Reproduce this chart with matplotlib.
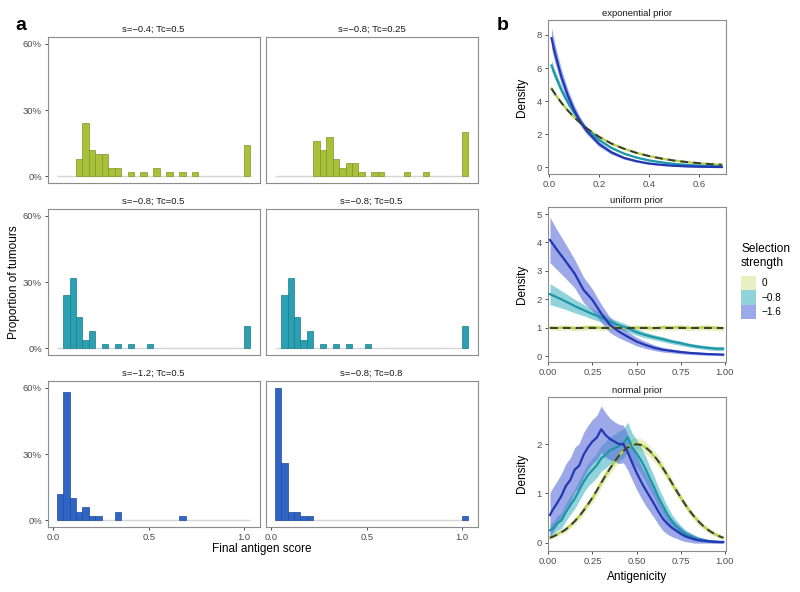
import numpy as np
import matplotlib
matplotlib.use("Agg")
import matplotlib.pyplot as plt
from matplotlib.patches import Patch

plt.rcParams['font.family'] = ['Liberation Sans', 'DejaVu Sans']

# ---------------- panel a data (percent of tumours per bin, 30 bins) ----------------
hist_titles = ["s=\u22120.4; Tc=0.5", "s=\u22120.8; Tc=0.25",
               "s=\u22120.8; Tc=0.5", "s=\u22120.8; Tc=0.5",
               "s=\u22121.2; Tc=0.5", "s=\u22120.8; Tc=0.8"]
pct_tl = [0, 0, 0, 8, 24, 12, 10, 10, 4, 4, 0, 2, 0, 2, 0, 4, 0, 2, 0, 2, 0, 2, 0, 0, 0, 0, 0, 0, 0, 14]
pct_tr = [0, 0, 0, 0, 0, 0, 16, 12, 18, 8, 4, 6, 6, 2, 0, 2, 2, 0, 0, 0, 2, 0, 0, 2, 0, 0, 0, 0, 0, 20]
pct_ml = [0, 24, 32, 14, 4, 8, 0, 2, 0, 2, 0, 2, 0, 0, 2, 0, 0, 0, 0, 0, 0, 0, 0, 0, 0, 0, 0, 0, 0, 10]
pct_mr = [0, 24, 32, 14, 4, 8, 0, 2, 0, 2, 0, 2, 0, 0, 2, 0, 0, 0, 0, 0, 0, 0, 0, 0, 0, 0, 0, 0, 0, 10]
pct_bl = [12, 58, 10, 4, 6, 2, 2, 0, 0, 4, 0, 0, 0, 0, 0, 0, 0, 0, 0, 2, 0, 0, 0, 0, 0, 0, 0, 0, 0, 0]
pct_br = [60, 26, 4, 4, 2, 2, 0, 0, 0, 0, 0, 0, 0, 0, 0, 0, 0, 0, 0, 0, 0, 0, 0, 0, 0, 0, 0, 0, 0, 2]
bin_range = (0.018, 1.030)
hist_ticks = [0.0, 0.5, 1.0]
hist_tick_labels = ["0.0", "0.5", "1.0"]
pct_ticks = [0, 30, 60]
pct_tick_labels = ["0%", "30%", "60%"]

# ---------------- panel b data ----------------
strength_labels = ["0", "\u22120.8", "\u22121.6"]

x_exp = [0.01, 0.025, 0.05, 0.075, 0.10, 0.125, 0.15, 0.20, 0.25, 0.30, 0.35, 0.40, 0.45, 0.50, 0.55, 0.60, 0.65, 0.69]
exp_s0 = [4.76, 4.41, 3.89, 3.44, 3.03, 2.68, 2.36, 1.84, 1.43, 1.12, 0.87, 0.68, 0.53, 0.41, 0.32, 0.25, 0.19, 0.16]
exp_s08 = [6.15, 5.55, 4.66, 3.93, 3.31, 2.78, 2.34, 1.66, 1.17, 0.83, 0.59, 0.42, 0.30, 0.21, 0.15, 0.105, 0.075, 0.057]
exp_s16 = [7.80, 6.81, 5.44, 4.35, 3.47, 2.77, 2.21, 1.41, 0.90, 0.57, 0.37, 0.23, 0.15, 0.095, 0.06, 0.04, 0.025, 0.018]
exp_prior = [4.76, 4.41, 3.89, 3.44, 3.03, 2.68, 2.36, 1.84, 1.43, 1.12, 0.87, 0.68, 0.53, 0.41, 0.32, 0.25, 0.19, 0.16]
exp_b0 = [0.08, 0.08, 0.07, 0.07, 0.06, 0.06, 0.06, 0.05, 0.05, 0.04, 0.04, 0.04, 0.04, 0.03, 0.03, 0.03, 0.03, 0.03]
exp_b08 = [0.32, 0.28, 0.24, 0.20, 0.17, 0.14, 0.12, 0.09, 0.07, 0.05, 0.04, 0.04, 0.03, 0.03, 0.03, 0.02, 0.02, 0.02]
exp_b16 = [0.62, 0.55, 0.45, 0.37, 0.30, 0.25, 0.20, 0.15, 0.11, 0.08, 0.06, 0.05, 0.04, 0.03, 0.03, 0.03, 0.02, 0.02]

x_uni = [0.01, 0.05, 0.10, 0.15, 0.20, 0.25, 0.30, 0.35, 0.40, 0.45, 0.50, 0.55, 0.60, 0.65, 0.70, 0.75, 0.80, 0.85, 0.90, 0.95, 0.99]
uni_s0 = [1.0, 0.99, 1.01, 0.98, 1.0, 1.02, 0.99, 1.0, 1.01, 0.99, 1.0, 1.0, 0.98, 1.01, 1.0, 1.02, 0.99, 1.0, 1.01, 0.99, 0.98]
uni_s08 = [2.18, 2.07, 1.92, 1.76, 1.62, 1.48, 1.36, 1.21, 1.09, 0.98, 0.84, 0.74, 0.66, 0.59, 0.51, 0.45, 0.38, 0.33, 0.29, 0.26, 0.26]
uni_s16 = [4.09, 3.74, 3.33, 2.90, 2.33, 1.98, 1.50, 1.09, 0.86, 0.68, 0.51, 0.39, 0.29, 0.22, 0.18, 0.14, 0.11, 0.09, 0.07, 0.06, 0.05]
uni_prior = [1.0, 1.0, 1.0, 1.0, 1.0, 1.0, 1.0, 1.0, 1.0, 1.0, 1.0, 1.0, 1.0, 1.0, 1.0, 1.0, 1.0, 1.0, 1.0, 1.0, 1.0]
uni_b0 = [0.09, 0.09, 0.09, 0.09, 0.09, 0.09, 0.09, 0.09, 0.09, 0.09, 0.09, 0.09, 0.09, 0.09, 0.09, 0.09, 0.09, 0.09, 0.09, 0.09, 0.09]
uni_b08 = [0.37, 0.33, 0.28, 0.24, 0.20, 0.18, 0.16, 0.14, 0.13, 0.12, 0.11, 0.10, 0.09, 0.09, 0.08, 0.08, 0.07, 0.07, 0.07, 0.07, 0.07]
uni_b16 = [0.80, 0.70, 0.60, 0.50, 0.45, 0.38, 0.32, 0.27, 0.22, 0.18, 0.15, 0.12, 0.10, 0.08, 0.07, 0.06, 0.05, 0.05, 0.04, 0.04, 0.04]

x_norm = [0.01, 0.025, 0.05, 0.075, 0.10, 0.125, 0.15, 0.175, 0.20, 0.225, 0.25, 0.275, 0.30, 0.325,
          0.35, 0.375, 0.40, 0.425, 0.45, 0.475, 0.50, 0.525, 0.55, 0.575, 0.60, 0.625, 0.65, 0.675,
          0.70, 0.725, 0.75, 0.775, 0.80, 0.825, 0.85, 0.875, 0.90, 0.925, 0.95, 0.975, 0.99]
norm_s0 = [0.10, 0.12, 0.17, 0.22, 0.27, 0.35, 0.44, 0.53, 0.66, 0.78, 0.90, 1.05, 1.22, 1.37, 1.50, 1.63,
           1.76, 1.87, 1.95, 1.99, 2.01, 1.99, 1.93, 1.85, 1.75, 1.64, 1.50, 1.36, 1.20, 1.05, 0.91, 0.77,
           0.64, 0.53, 0.43, 0.34, 0.27, 0.21, 0.16, 0.12, 0.10]
norm_s08 = [0.25, 0.28, 0.39, 0.45, 0.62, 0.76, 0.89, 1.06, 1.23, 1.37, 1.47, 1.57, 1.71, 1.78, 1.88, 1.91,
            1.96, 2.01, 2.14, 1.93, 1.81, 1.67, 1.50, 1.30, 1.12, 0.91, 0.74, 0.57, 0.43, 0.33, 0.25, 0.18,
            0.14, 0.10, 0.07, 0.05, 0.035, 0.025, 0.02, 0.015, 0.015]
norm_s16 = [0.56, 0.66, 0.80, 0.95, 1.15, 1.27, 1.48, 1.56, 1.78, 1.93, 2.05, 2.13, 2.30, 2.18, 2.10, 2.05,
            2.00, 2.00, 1.83, 1.62, 1.42, 1.24, 1.08, 0.93, 0.78, 0.62, 0.48, 0.38, 0.30, 0.24, 0.18, 0.13,
            0.10, 0.07, 0.05, 0.04, 0.03, 0.02, 0.015, 0.01, 0.01]
norm_prior = [0.099, 0.119, 0.159, 0.209, 0.270, 0.344, 0.432, 0.533, 0.648, 0.775, 0.913, 1.059, 1.210, 1.360,
              1.506, 1.641, 1.761, 1.860, 1.934, 1.980, 1.995, 1.980, 1.934, 1.860, 1.761, 1.641, 1.506, 1.360,
              1.210, 1.059, 0.913, 0.775, 0.648, 0.533, 0.432, 0.344, 0.270, 0.209, 0.159, 0.119, 0.099]
norm_b0 = [0.04, 0.04, 0.05, 0.05, 0.06, 0.06, 0.07, 0.07, 0.08, 0.08, 0.09, 0.09, 0.10, 0.10, 0.10, 0.11,
           0.11, 0.11, 0.12, 0.12, 0.12, 0.12, 0.12, 0.11, 0.11, 0.11, 0.10, 0.10, 0.10, 0.09, 0.09, 0.08,
           0.08, 0.07, 0.07, 0.06, 0.06, 0.05, 0.05, 0.04, 0.04]
norm_b08 = [0.12, 0.13, 0.15, 0.16, 0.18, 0.19, 0.20, 0.21, 0.22, 0.23, 0.24, 0.25, 0.26, 0.27, 0.28, 0.29,
            0.30, 0.30, 0.30, 0.29, 0.28, 0.27, 0.26, 0.24, 0.22, 0.20, 0.18, 0.16, 0.14, 0.12, 0.10, 0.08,
            0.07, 0.06, 0.05, 0.04, 0.03, 0.03, 0.02, 0.02, 0.02]
norm_b16 = [0.45, 0.45, 0.45, 0.45, 0.45, 0.45, 0.45, 0.45, 0.45, 0.45, 0.45, 0.45, 0.47, 0.45, 0.42, 0.40,
            0.40, 0.38, 0.36, 0.35, 0.34, 0.33, 0.32, 0.30, 0.28, 0.26, 0.24, 0.21, 0.18, 0.15, 0.13, 0.11,
            0.09, 0.08, 0.06, 0.05, 0.04, 0.03, 0.03, 0.02, 0.02]

# ---------------- style ----------------
W, H = 800, 592
bar_fill = ['#a9c13a', '#2ba0b2', '#2f66c6']
bar_edge = ['#7f9527', '#1d7a88', '#22499a']
line_cols = ['#b9cf45', '#1d97a7', '#2437b5']
ribbon_cols = ['#d8e59c', '#48b6c2', '#5a6fd8']
ribbon_alpha = 0.6
spine_col = '#8c8c8c'
tick_lab_col = '#4d4d4d'

fig = plt.figure(figsize=(W / 100, H / 100), dpi=100)


def px_axes(x0, y0, x1, y1):
    return fig.add_axes([x0 / W, 1 - y1 / H, (x1 - x0) / W, (y1 - y0) / H])


def style(ax):
    for s in ax.spines.values():
        s.set_color(spine_col)
        s.set_linewidth(0.8)
    ax.tick_params(colors='#333333', labelcolor=tick_lab_col, labelsize=6.8,
                   length=2.5, width=0.6, pad=1.5)


# ---------------- panel a ----------------
cols = [(47.5, 259.5), (265.5, 477.5)]
rows = [(37, 183), (209, 355), (381, 527)]
all_pct = [pct_tl, pct_tr, pct_ml, pct_mr, pct_bl, pct_br]
edges = np.linspace(bin_range[0], bin_range[1], len(pct_tl) + 1)
bw = edges[1] - edges[0]
for i, pct in enumerate(all_pct):
    r, c = divmod(i, 2)
    ax = px_axes(cols[c][0], rows[r][0], cols[c][1], rows[r][1])
    style(ax)
    ax.hlines(0, edges[0], edges[-1], color='#d4d4d4', lw=1.0, zorder=1)
    p = np.array(pct, dtype=float)
    m = p > 0
    ax.bar(edges[:-1][m], p[m], width=bw, align='edge', color=bar_fill[r],
           edgecolor=bar_edge[r], linewidth=0.5, zorder=2)
    ax.set_xlim(-0.030, 1.080)
    ax.set_ylim(-3, 63)
    ax.set_title(hist_titles[i], fontsize=6.8, pad=4, color='#1a1a1a')
    ax.set_yticks(pct_ticks)
    ax.set_xticks(hist_ticks)
    if c == 0:
        ax.set_yticklabels(pct_tick_labels)
    else:
        ax.tick_params(axis='y', left=False, labelleft=False)
    if r == 2:
        ax.set_xticklabels(hist_tick_labels)
    else:
        ax.tick_params(axis='x', bottom=False, labelbottom=False)

fig.text(15 / W, 1 - 26 / H, "a", fontsize=14, fontweight='bold', va='center', ha='left')
fig.text(14 / W, 1 - 282 / H, "Proportion of tumours", rotation=90, fontsize=8.5,
         ha='center', va='center')
fig.text(262 / W, 1 - 549 / H, "Final antigen score", fontsize=8.5, ha='center', va='center')

# ---------------- panel b ----------------
bx0, bx1 = 547.5, 726
b_rows = [(20, 174.3), (207.3, 362), (396.7, 551)]
b_titles = ["exponential prior", "uniform prior", "normal prior"]
b_data = [
    (x_exp, [exp_s0, exp_s08, exp_s16], [exp_b0, exp_b08, exp_b16], exp_prior,
     (-0.006, 0.707), (-0.42, 8.9), [0.0, 0.2, 0.4, 0.6], ["0.0", "0.2", "0.4", "0.6"], [0, 2, 4, 6, 8]),
    (x_uni, [uni_s0, uni_s08, uni_s16], [uni_b0, uni_b08, uni_b16], uni_prior,
     (-0.004, 1.006), (-0.21, 5.24), [0, 0.25, 0.5, 0.75, 1.0], ["0.00", "0.25", "0.50", "0.75", "1.00"],
     [0, 1, 2, 3, 4, 5]),
    (x_norm, [norm_s0, norm_s08, norm_s16], [norm_b0, norm_b08, norm_b16], norm_prior,
     (-0.004, 1.006), (-0.17, 2.96), [0, 0.25, 0.5, 0.75, 1.0], ["0.00", "0.25", "0.50", "0.75", "1.00"],
     [0, 1, 2]),
]
for k, (xs, ys, bands, prior, xl, yl, xt, xtl, yt) in enumerate(b_data):
    y0, y1 = b_rows[k]
    ax = px_axes(bx0, y0, bx1, y1)
    style(ax)
    x = np.array(xs)
    for j in range(3):
        y = np.array(ys[j])
        b = np.array(bands[j])
        ax.fill_between(x, y - b, y + b, color=ribbon_cols[j], alpha=ribbon_alpha, lw=0, zorder=1 + j)
    for j in range(3):
        ax.plot(x, ys[j], color=line_cols[j], lw=1.6, zorder=5 + j, solid_joinstyle='round')
    ax.plot(x, prior, color='#3a3a3a', lw=1.4, ls=(0, (4, 2.6)), zorder=10)
    ax.set_xlim(*xl)
    ax.set_ylim(*yl)
    ax.set_xticks(xt)
    ax.set_xticklabels(xtl)
    ax.set_yticks(yt)
    ax.set_title(b_titles[k], fontsize=6.8, pad=3, color='#1a1a1a')
    fig.text(522 / W, 1 - ((y0 + y1) / 2) / H, "Density", rotation=90, fontsize=8.5,
             ha='center', va='center')

fig.text(497 / W, 1 - 26 / H, "b", fontsize=14, fontweight='bold', va='center', ha='left')
fig.text(637 / W, 1 - 577 / H, "Antigenicity", fontsize=8.5, ha='center', va='center')

handles = [Patch(facecolor=ribbon_cols[j], alpha=ribbon_alpha, edgecolor='none') for j in range(3)]
leg = fig.legend(handles, strength_labels, title="Selection\nstrength", loc='upper left',
                 bbox_to_anchor=(741 / W, 1 - 243 / H), frameon=False, fontsize=7.2,
                 title_fontsize=8.6, handlelength=1.5, handleheight=1.85, labelspacing=0.0,
                 handletextpad=0.6, borderpad=0, borderaxespad=0, alignment='left')
leg._legend_box.sep = 5

fig.savefig("out.png", dpi=100)
